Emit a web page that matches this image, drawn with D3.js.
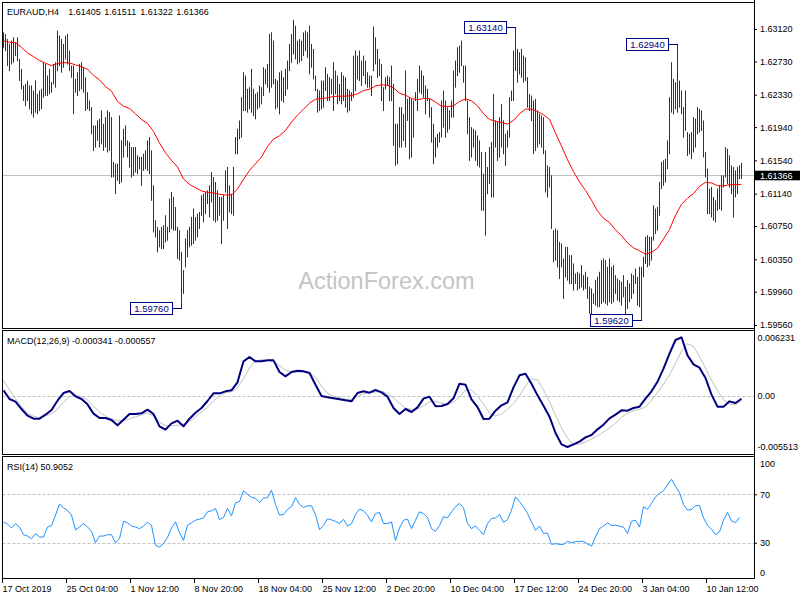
<!DOCTYPE html>
<html><head><meta charset="utf-8">
<script src="https://cdn.jsdelivr.net/npm/d3@7/dist/d3.min.js"></script>
<style>
html,body{margin:0;padding:0;background:#fff;}
svg{display:block;font-family:"Liberation Sans",Arial,sans-serif;}
</style></head><body>
<svg id="c" width="800" height="600"></svg>
<script>
// ---------- DATA ----------
const symbolTitle = "EURAUD,H4";
const ohlcValues = ["1.61405", "1.61511", "1.61322", "1.61366"];
const lastPrice = 1.61366;

const highs = [
1.6308,1.6306,1.6300,1.6294,1.6298,1.6302,1.6296,1.6302,1.6276,1.6264,
1.6244,1.6246,1.6250,1.6244,1.6244,1.6238,1.6250,1.6234,1.6238,1.6240,
1.6272,1.6270,1.6256,1.6264,1.6248,1.6270,1.6272,1.6310,1.6304,1.6300,
1.6294,1.6304,1.6306,1.6286,1.6268,1.6268,1.6252,1.6260,1.6270,1.6272,
1.6266,1.6254,1.6236,1.6226,1.6218,1.6196,1.6196,1.6202,1.6204,1.6214,
1.6198,1.6206,1.6214,1.6212,1.6206,1.6152,1.6150,1.6150,1.6208,1.6178,
1.6192,1.6196,1.6178,1.6176,1.6170,1.6170,1.6170,1.6160,1.6158,1.6158,
1.6162,1.6166,1.6178,1.6182,1.6166,1.6124,1.6082,1.6074,1.6070,1.6074,
1.6076,1.6088,1.6074,1.6108,1.6116,1.6110,1.6098,1.6074,1.6070,1.6044,
1.6022,1.6060,1.6070,1.6074,1.6086,1.6096,1.6086,1.6090,1.6092,1.6112,
1.6114,1.6116,1.6118,1.6124,1.6140,1.6134,1.6128,1.6118,1.6110,1.6110,
1.6112,1.6142,1.6146,1.6124,1.6114,1.6146,1.6182,1.6192,1.6202,1.6230,
1.6260,1.6256,1.6240,1.6242,1.6264,1.6240,1.6234,1.6236,1.6244,1.6242,
1.6266,1.6264,1.6270,1.6306,1.6308,1.6298,1.6252,1.6250,1.6260,1.6262,
1.6254,1.6264,1.6274,1.6294,1.6306,1.6323,1.6316,1.6298,1.6300,1.6298,
1.6308,1.6310,1.6308,1.6316,1.6294,1.6288,1.6256,1.6240,1.6238,1.6250,
1.6250,1.6266,1.6258,1.6254,1.6252,1.6272,1.6262,1.6256,1.6246,1.6260,
1.6256,1.6254,1.6240,1.6238,1.6236,1.6280,1.6286,1.6280,1.6286,1.6274,
1.6280,1.6274,1.6260,1.6256,1.6256,1.6315,1.6302,1.6288,1.6276,1.6270,
1.6242,1.6254,1.6256,1.6254,1.6268,1.6246,1.6198,1.6198,1.6218,1.6218,
1.6210,1.6262,1.6228,1.6230,1.6228,1.6226,1.6236,1.6252,1.6268,1.6262,
1.6256,1.6244,1.6240,1.6228,1.6218,1.6198,1.6182,1.6186,1.6188,1.6226,
1.6238,1.6226,1.6218,1.6214,1.6226,1.6262,1.6274,1.6290,1.6292,1.6298,
1.6268,1.6268,1.6226,1.6206,1.6194,1.6192,1.6190,1.6184,1.6178,1.6164,
1.6138,1.6164,1.6146,1.6170,1.6176,1.6234,1.6202,1.6200,1.6206,1.6222,
1.6202,1.6186,1.6190,1.6230,1.6238,1.6286,1.6314,1.6288,1.6284,1.6288,
1.6280,1.6278,1.6254,1.6234,1.6232,1.6226,1.6228,1.6214,1.6210,1.6208,
1.6206,1.6166,1.6148,1.6146,1.6136,1.6070,1.6072,1.6070,1.6056,1.6054,
1.6036,1.6050,1.6050,1.6040,1.6040,1.6030,1.6018,1.6020,1.6018,1.6028,
1.6016,1.6020,1.6014,1.6002,1.6000,1.5994,1.6010,1.6014,1.6020,1.6034,
1.6036,1.6034,1.6026,1.6036,1.6026,1.6028,1.6016,1.6012,1.6010,1.6008,
1.6016,1.6002,1.6010,1.6006,1.6018,1.6016,1.6024,1.6014,1.6026,1.6026,
1.6038,1.6062,1.6064,1.6062,1.6062,1.6100,1.6096,1.6098,1.6128,1.6152,
1.6154,1.6156,1.6178,1.6230,1.6272,1.6252,1.6248,1.6294,1.6250,1.6238,
1.6218,1.6238,1.6188,1.6186,1.6188,1.6206,1.6204,1.6218,1.6216,1.6214,
1.6202,1.6164,1.6144,1.6120,1.6122,1.6110,1.6106,1.6120,1.6124,1.6136,
1.6136,1.6170,1.6168,1.6160,1.6148,1.6146,1.6142,1.6146,1.6148,1.61511
];
const lows = [
1.6290,1.6286,1.6268,1.6262,1.6270,1.6272,1.6280,1.6274,1.6250,1.6240,
1.6226,1.6220,1.6226,1.6216,1.6210,1.6206,1.6212,1.6210,1.6214,1.6216,
1.6230,1.6232,1.6232,1.6234,1.6236,1.6246,1.6242,1.6262,1.6268,1.6260,
1.6266,1.6276,1.6270,1.6262,1.6254,1.6210,1.6236,1.6232,1.6238,1.6240,
1.6236,1.6214,1.6216,1.6214,1.6186,1.6166,1.6170,1.6178,1.6170,1.6174,
1.6166,1.6170,1.6164,1.6166,1.6134,1.6134,1.6114,1.6130,1.6126,1.6128,
1.6158,1.6172,1.6158,1.6146,1.6134,1.6136,1.6140,1.6138,1.6144,1.6124,
1.6142,1.6144,1.6142,1.6138,1.6106,1.6068,1.6062,1.6044,1.6050,1.6048,
1.6048,1.6056,1.6058,1.6068,1.6072,1.6070,1.6070,1.6036,1.6034,1.5976,
1.5994,1.6026,1.6038,1.6050,1.6052,1.6054,1.6058,1.6062,1.6072,1.6088,
1.6080,1.6090,1.6102,1.6086,1.6104,1.6082,1.6080,1.6082,1.6088,1.6054,
1.6082,1.6116,1.6072,1.6092,1.6090,1.6088,1.6162,1.6162,1.6180,1.6182,
1.6214,1.6214,1.6212,1.6216,1.6212,1.6208,1.6204,1.6216,1.6218,1.6222,
1.6232,1.6246,1.6242,1.6236,1.6242,1.6246,1.6216,1.6218,1.6210,1.6226,
1.6224,1.6232,1.6240,1.6262,1.6272,1.6282,1.6276,1.6270,1.6272,1.6274,
1.6280,1.6286,1.6278,1.6258,1.6266,1.6252,1.6238,1.6212,1.6214,1.6216,
1.6218,1.6238,1.6226,1.6226,1.6234,1.6214,1.6234,1.6222,1.6226,1.6222,
1.6226,1.6218,1.6212,1.6214,1.6226,1.6230,1.6238,1.6252,1.6250,1.6244,
1.6256,1.6246,1.6242,1.6242,1.6232,1.6262,1.6270,1.6254,1.6256,1.6226,
1.6214,1.6240,1.6244,1.6226,1.6226,1.6172,1.6148,1.6150,1.6170,1.6170,
1.6178,1.6170,1.6202,1.6156,1.6158,1.6182,1.6226,1.6214,1.6236,1.6234,
1.6230,1.6210,1.6226,1.6206,1.6176,1.6150,1.6158,1.6170,1.6176,1.6182,
1.6194,1.6182,1.6188,1.6192,1.6206,1.6206,1.6242,1.6256,1.6260,1.6268,
1.6248,1.6226,1.6186,1.6154,1.6158,1.6170,1.6154,1.6148,1.6146,1.6094,
1.6094,1.6064,1.6114,1.6126,1.6110,1.6110,1.6170,1.6154,1.6158,1.6170,
1.6162,1.6148,1.6170,1.6182,1.6226,1.6226,1.6262,1.6248,1.6258,1.6254,
1.6248,1.6250,1.6218,1.6214,1.6202,1.6162,1.6166,1.6170,1.6174,1.6170,
1.6162,1.6116,1.6110,1.6122,1.6072,1.6032,1.6034,1.6026,1.6012,1.6026,
1.5988,1.6014,1.6010,1.6006,1.6006,1.5998,1.6006,1.5998,1.6000,1.6002,
1.5998,1.6000,1.5988,1.5970,1.5968,1.5982,1.5980,1.5978,1.5978,1.5982,
1.5984,1.5982,1.5980,1.5984,1.5982,1.5984,1.5994,1.5986,1.5984,1.5980,
1.5990,1.5968,1.5976,1.5984,1.5988,1.5994,1.6006,1.5980,1.5978,1.5962,
1.6014,1.6030,1.6026,1.6028,1.6034,1.6058,1.6066,1.6070,1.6088,1.6120,
1.6124,1.6128,1.6144,1.6162,1.6212,1.6210,1.6216,1.6212,1.6218,1.6210,
1.6182,1.6190,1.6160,1.6162,1.6156,1.6164,1.6170,1.6186,1.6188,1.6190,
1.6158,1.6134,1.6090,1.6090,1.6086,1.6082,1.6080,1.6094,1.6096,1.6094,
1.6122,1.6134,1.6126,1.6122,1.6114,1.6086,1.6110,1.6114,1.6132,1.61322
];

// indicator lines, one value every `lineStep` bars (bars 0,3,6,...,369)
const lineStep = 3;
const maValues = [
1.6298,1.6296,1.62956,1.6290,1.62832,1.62788,1.6274,1.62708,1.6268,1.62704,
1.62716,1.62712,1.62688,1.62668,1.62636,1.62564,1.62508,1.62428,1.62372,1.62248,
1.62192,1.62164,1.6210,1.62032,1.61984,1.61888,1.61748,1.61632,1.6154,1.6146,
1.61316,1.61252,1.61212,
1.61172,1.61156,1.61148,1.61132,1.61124,1.61124,1.61196,1.61312,1.6142,1.6150,
1.6158,1.61708,1.61796,1.61836,1.6190,1.6200,1.62084,1.62156,1.62228,1.62276,
1.62284,1.62292,1.62308,1.62312,1.62312,1.6232,1.6234,1.6238,1.62396,1.62436,
1.62448,1.62444,
1.62412,1.62348,1.62324,1.62284,1.62268,1.62284,1.62284,1.6224,1.62192,1.62188,
1.62196,1.62248,1.6228,1.62256,1.62196,1.6210,1.62032,1.62012,1.61996,1.61976,
1.6202,1.6210,1.62156,1.62156,1.62128,1.62088,1.62032,1.61868,1.61712,1.61548,
1.61404,1.6128,
1.6118,1.6106,1.60932,1.60844,1.60792,1.60704,1.60636,1.60548,1.60488,1.60452,
1.60412,1.60432,1.60484,1.60596,1.60708,1.6088,1.61012,1.61084,1.6114,1.61228,
1.61276,1.61268,1.61236,1.61232,1.61248,1.61248,1.61252
];
const macdMain = [
0.000553,-0.000375,-0.000660,-0.001446,-0.002159,-0.002481,-0.002481,-0.002052,-0.001553,-0.000553,
0.000267,0.000482,-0.000089,-0.000375,-0.000946,-0.001945,-0.002409,-0.002409,-0.002623,-0.003194,
-0.002588,-0.001981,-0.001981,-0.001910,-0.001517,-0.001981,-0.003302,-0.003658,-0.002980,-0.002695,
-0.003302,-0.002481,-0.001838,-0.001339,-0.000589,0.000232,0.000232,0.000446,0.000553,0.001410,
0.003658,0.004122,0.003658,0.003658,0.003765,0.003765,0.002516,0.002052,0.002516,0.002659,
0.002587,0.002409,0.001160,-0.000054,-0.000197,-0.000304,-0.000411,-0.000518,-0.000625,0.000267,
0.000446,0.000303,0.000589,0.000339,-0.000125,-0.001339,-0.001981,
-0.001446,-0.001767,-0.001267,-0.000339,-0.000125,-0.001160,-0.001124,-0.000910,-0.000304,0.001267,
0.001160,-0.000411,-0.001232,-0.002516,-0.002481,-0.001624,-0.001053,-0.000732,0.000874,0.002159,
0.002337,0.001267,0.000018,-0.001089,-0.002267,-0.004015,-0.005229,-0.005513,-0.005229,-0.004943,
-0.004479,-0.004229,-0.003623,-0.003123,-0.002445,-0.002052,-0.001588,-0.001624,-0.001339,-0.001196,
-0.000339,0.000446,0.001481,0.002873,0.004479,0.005942,0.006231,0.004300,0.003337,0.002980,
0.001873,0.000089,-0.001196,-0.001196,-0.000625,-0.000803,-0.000341
];
const macdSignal = [
0.001588,0.000624,-0.000339,-0.001196,-0.001910,-0.002231,-0.002374,-0.002195,-0.001945,-0.001481,
-0.000732,-0.000125,0.000053,-0.000125,-0.000482,-0.001124,-0.001767,-0.002231,-0.002516,-0.002695,
-0.002695,-0.002516,-0.002267,-0.002088,-0.001874,-0.002195,-0.002838,-0.003230,-0.003230,-0.003194,
-0.003087,-0.002766,-0.002267,-0.001767,-0.001232,-0.000589,-0.000018,0.000303,0.000410,0.000838,
0.001802,0.002944,0.003694,0.003836,0.003729,0.003658,0.003194,0.002730,0.002516,0.002516,
0.002516,0.002409,0.001945,0.001017,0.000232,-0.000089,-0.000232,-0.000411,-0.000375,-0.000089,
0.000160,0.000303,0.000375,0.000446,0.000232,-0.000232,-0.000839,
-0.001339,-0.001481,-0.001446,-0.001089,-0.000696,-0.000625,-0.000839,-0.000982,-0.000696,-0.000197,
0.000589,0.000589,-0.000054,-0.000910,-0.001874,-0.002195,-0.001981,-0.001481,-0.000839,-0.000054,
0.001017,0.001802,0.001659,0.000589,-0.000660,-0.002124,-0.003480,-0.004587,-0.005265,-0.005193,
-0.004979,-0.004658,-0.004337,-0.003908,-0.003480,-0.002980,-0.002338,-0.001874,-0.001624,-0.001481,
-0.001232,-0.000518,0.000339,0.001195,0.002195,0.003480,0.004729,0.005550,0.005264,0.004158,
0.002944,0.001659,0.000553,-0.000446,-0.000910,-0.000982,-0.000557
];
// RSI, one value every `rsiStep` bars (bars 0,2,...,368)
const rsiStep = 2;
const rsiValues = [
47.2,45.3,42.2,45.8,42.8,36.6,35.5,33.3,37.5,34.7,
34.7,43.0,44.1,52.8,61.9,58.9,56.6,52.8,40.5,43.0,
45.8,43.0,39.4,30.0,35.5,35.5,36.6,36.6,30.0,33.3,
47.7,46.6,43.8,43.0,41.6,43.8,46.9,44.4,27.8,26.4,
29.2,34.4,42.2,47.2,38.3,31.9,44.4,46.6,48.6,49.4,
50.5,55.5,56.4,58.3,49.1,50.8,58.3,52.2,63.0,63.9,
72.8,70.0,67.5,66.6,63.3,66.9,67.2,73.3,61.6,52.8,
53.3,57.5,59.7,67.2,61.6,59.1,60.5,60.5,53.3,40.8,
44.1,49.7,48.9,47.7,45.8,49.4,43.8,45.8,53.3,57.8,
56.4,52.5,47.2,54.1,55.0,45.8,45.8,47.2,31.9,42.2,
48.6,49.4,41.6,48.6,55.5,54.1,50.8,41.6,39.4,44.1,
51.6,50.5,55.5,59.7,62.5,58.9,45.8,41.6,43.8,40.2,
36.6,45.8,50.0,50.5,53.3,46.9,49.1,56.9,68.0,63.9,
59.7,54.1,47.2,40.2,43.8,37.7,38.0,28.6,29.2,28.6,
28.6,31.1,30.0,30.8,31.1,31.1,28.9,27.2,34.7,41.6,
43.8,46.4,44.1,44.4,43.6,42.8,37.7,47.7,48.6,43.0,
59.7,57.5,62.5,67.8,70.8,73.0,77.7,82.5,76.4,71.4,
61.6,56.9,57.5,60.5,60.8,50.5,44.4,41.1,36.6,38.9,
48.6,55.0,48.0,46.6,50.9
];
const rsiLabel = "RSI(14) 50.9052";

const priceTicks = [1.63120,1.62730,1.62330,1.61940,1.61540,1.61140,1.60750,1.60350,1.59960,1.59560];
const macdTicks = [0.006231, 0, -0.005513];
const rsiTicks = [100, 70, 30, 0];
const rsiLevels = [70, 30];
const dateLabels = ["17 Oct 2019","25 Oct 04:00","1 Nov 12:00","8 Nov 20:00","18 Nov 04:00","25 Nov 12:00",
  "2 Dec 20:00","10 Dec 04:00","17 Dec 12:00","24 Dec 20:00","3 Jan 04:00","10 Jan 12:00"];
const dateEvery = 32;
const pivotBars = [89, 256, 319, 337];
const pivotPrices = [1.59760, 1.63140, 1.59620, 1.62940];

// ---------- DRAW ----------
const svg = d3.select("#c");
const FONT = "Liberation Sans, Arial, sans-serif";
const FS = 9;
const nBars = highs.length;

const x = d3.scaleLinear().domain([0, nBars - 1]).range([3.5, 3.5 + 2 * (nBars - 1)]);
const xT = d3.scaleLinear().domain([0, nBars - 1]).range([2, 2 + 2 * (nBars - 1)]);
const yP = d3.scaleLinear().domain([1.5956, 1.6312]).range([325, 29]);
const yM = d3.scaleLinear().domain([-0.005513, 0.006231]).range([447, 337.3]);
const yR = d3.scaleLinear().domain([0, 100]).range([579, 458]);

const panels = [
  {id: "main", y0: 2.5, y1: 328.5},
  {id: "macd", y0: 330.5, y1: 454.5},
  {id: "rsi", y0: 456.5, y1: 578.5}
];
const X0 = 2.5, X1 = 754.5;
const defs = svg.append("defs");
panels.forEach(p => {
  defs.append("clipPath").attr("id", "clip-" + p.id)
    .append("rect").attr("x", X0 + 0.5).attr("y", p.y0 + 0.5)
    .attr("width", X1 - X0 - 1).attr("height", p.y1 - p.y0 - 1);
});

// watermark
svg.append("text").attr("x", 386.5).attr("y", 289).attr("text-anchor", "middle")
  .attr("font-family", FONT).attr("font-size", 23.5).attr("fill", "#c4c4c4")
  .text("ActionForex.com");

// main panel content
const gMain = svg.append("g").attr("clip-path", "url(#clip-main)");
const yLast = Math.round(yP(lastPrice)) + 0.5;
gMain.append("line").attr("x1", X0).attr("x2", X1).attr("y1", yLast).attr("y2", yLast)
  .attr("stroke", "#c0c0c0").attr("stroke-width", 1);

gMain.append("g").selectAll("line").data(d3.range(nBars)).join("line")
  .attr("x1", i => x(i)).attr("x2", i => x(i))
  .attr("y1", i => yP(highs[i])).attr("y2", i => yP(lows[i]) + 0.5)
  .attr("stroke", "#0f3b5c").attr("stroke-width", 1);

const lineIdx = k => Math.min(k * lineStep, nBars - 1);
gMain.append("path").datum(maValues)
  .attr("d", d3.line().x((d, k) => x(lineIdx(k))).y(d => yP(d)))
  .attr("fill", "none").attr("stroke", "#ff0000").attr("stroke-width", 1);

// pivot labels
pivotBars.forEach((b, k) => {
  const v = pivotPrices[k];
  const yy = Math.round(yP(v)) + 0.5;
  const bx = x(b);
  const w = 42, h = 12;
  const rx = Math.round(bx - 10 - w) + 0.5;
  const g = svg.append("g");
  g.append("line").attr("x1", rx + w).attr("x2", bx + 0.5).attr("y1", yy).attr("y2", yy)
    .attr("stroke", "#000080");
  g.append("rect").attr("x", rx).attr("y", yy - h / 2).attr("width", w).attr("height", h)
    .attr("fill", "#fff").attr("stroke", "#000080");
  g.append("text").attr("x", rx + w / 2).attr("y", yy + 3.3).attr("text-anchor", "middle")
    .attr("font-family", FONT).attr("font-size", 9.5).attr("fill", "#000080")
    .text(d3.format(".5f")(v));
});

// MACD panel
const gMacd = svg.append("g").attr("clip-path", "url(#clip-macd)");
const yZero = Math.round(yM(0)) + 0.5;
gMacd.append("line").attr("x1", X0).attr("x2", X1).attr("y1", yZero).attr("y2", yZero)
  .attr("stroke", "#c0c0c0").attr("stroke-dasharray", "3,2");
gMacd.append("path").datum(macdSignal)
  .attr("d", d3.line().x((d, k) => x(lineIdx(k))).y(d => yM(d)))
  .attr("fill", "none").attr("stroke", "#c0c0c0").attr("stroke-width", 1);
gMacd.append("path").datum(macdMain)
  .attr("d", d3.line().x((d, k) => x(lineIdx(k))).y(d => yM(d)))
  .attr("fill", "none").attr("stroke", "#000080").attr("stroke-width", 2)
  .attr("stroke-linejoin", "round");

// RSI panel
const gRsi = svg.append("g").attr("clip-path", "url(#clip-rsi)");
rsiLevels.forEach(l => {
  const yy = Math.round(yR(l)) + 0.5;
  gRsi.append("line").attr("x1", X0).attr("x2", X1).attr("y1", yy).attr("y2", yy)
    .attr("stroke", "#c0c0c0").attr("stroke-dasharray", "3,2");
});
gRsi.append("path").datum(rsiValues)
  .attr("d", d3.line().x((d, k) => x(Math.min(k * rsiStep, nBars - 1))).y(d => yR(d)))
  .attr("fill", "none").attr("stroke", "#1e90ff").attr("stroke-width", 1);

// panel frames
panels.forEach(p => {
  svg.append("rect").attr("x", X0).attr("y", p.y0).attr("width", X1 - X0).attr("height", p.y1 - p.y0)
    .attr("fill", "none").attr("stroke", "#000").attr("stroke-width", 1);
});
svg.append("line").attr("x1", X1).attr("x2", X1).attr("y1", 0).attr("y2", 579)
  .attr("stroke", "#000");

// axes
function styleAxis(g) {
  g.attr("font-family", FONT).attr("font-size", FS);
  g.select(".domain").remove();
  g.selectAll("text").attr("fill", "#000");
  g.selectAll("line").attr("stroke", "#000");
}
svg.append("g").attr("transform", `translate(${X1 - 0.5},0)`)
  .call(d3.axisRight(yP).tickValues(priceTicks).tickFormat(d3.format(".5f")).tickSize(3).tickPadding(3))
  .call(styleAxis);

svg.append("g").attr("transform", `translate(${X1 - 0.5},0)`)
  .call(d3.axisRight(yM).tickValues(macdTicks).tickFormat(v => v === 0 ? "0.00" : v.toFixed(6)).tickSize(0).tickPadding(3.5))
  .call(styleAxis);

const gRA = svg.append("g").attr("transform", `translate(${X1 - 0.5},0)`)
  .call(d3.axisRight(yR).tickValues(rsiTicks).tickFormat(d3.format("d")).tickSize(3).tickPadding(3))
  .call(styleAxis);
gRA.selectAll(".tick").filter(d => d === 100).select("text").attr("dy", "0.9em");
gRA.selectAll(".tick").filter(d => d === 0).select("text").attr("dy", "-0.4em");
gRA.selectAll(".tick").filter(d => d === 100 || d === 0).select("line").remove();

const gX = svg.append("g").attr("transform", "translate(0,579)")
  .call(d3.axisBottom(xT).tickValues(d3.range(0, nBars, dateEvery))
    .tickFormat((d, k) => dateLabels[k]).tickSize(4).tickPadding(3))
  .call(styleAxis);
gX.selectAll("text").attr("text-anchor", "start").attr("x", 0);

// current price box
const bb = svg.append("g");
bb.append("rect").attr("x", 755).attr("y", yLast - 4.8).attr("width", 45).attr("height", 9.6).attr("fill", "#000");
bb.append("text").attr("x", 760).attr("y", yLast + 3.3).attr("font-family", FONT).attr("font-size", FS)
  .attr("fill", "#fff").text(d3.format(".5f")(lastPrice));

// titles
const t = svg.append("text").attr("y", 14.5).attr("font-family", FONT).attr("font-size", FS).attr("fill", "#000");
t.append("tspan").attr("x", 7).text(symbolTitle);
ohlcValues.forEach((v, k) => t.append("tspan").attr("x", 68.3 + 36 * k).text(v));
svg.append("text").attr("x", 7).attr("y", 343.5).attr("font-family", FONT).attr("font-size", FS)
  .text("MACD(12,26,9) " + macdMain[macdMain.length - 1].toFixed(6) + " " + macdSignal[macdSignal.length - 1].toFixed(6));
svg.append("text").attr("x", 7).attr("y", 470).attr("font-family", FONT).attr("font-size", FS)
  .text(rsiLabel);
</script>
</body></html>
